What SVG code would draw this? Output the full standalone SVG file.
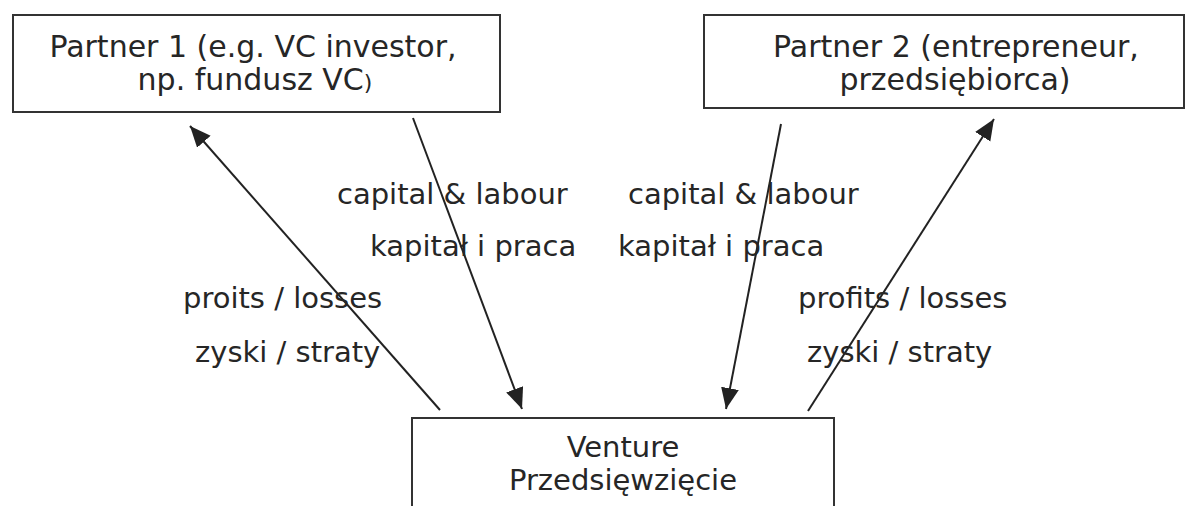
<svg xmlns="http://www.w3.org/2000/svg" width="1195" height="506" viewBox="0 0 1195 506">
<style>
  .box { fill: #ffffff; stroke: #333333; stroke-width: 2; }
  .t { font-family: "DejaVu Sans", Verdana, sans-serif; font-size: 30px; fill: #262626; text-anchor: middle; }
  .tv { font-family: "DejaVu Sans", Verdana, sans-serif; font-size: 29px; fill: #262626; text-anchor: middle; }
  .lbl { font-family: "DejaVu Sans", Verdana, sans-serif; font-size: 29px; fill: #262626; }
  .conn { stroke: #222222; stroke-width: 2; fill: none; marker-end: url(#arrow); }
</style>
<defs>
  <marker id="arrow" markerUnits="userSpaceOnUse" markerWidth="23" markerHeight="20" refX="21" refY="9" orient="auto">
    <path d="M0,0 L21,9 L0,18 Z" fill="#222222"/>
  </marker>
</defs>
<rect width="1195" height="506" fill="#ffffff"/>
<g id="partner1">
  <rect class="box" x="13" y="15" width="487" height="97"/>
  <text class="t" x="253" y="57">Partner 1 (e.g. VC investor,</text>
  <text class="t" x="255" y="90">np. fundusz VC<tspan font-size="22">)</tspan></text>
</g>
<g id="partner2">
  <rect class="box" x="704" y="15" width="480" height="93"/>
  <text class="t" x="956" y="57">Partner 2 (entrepreneur,</text>
  <text class="t" x="955" y="90">przedsiębiorca)</text>
</g>
<g id="venture">
  <rect class="box" x="412" y="418" width="422" height="100"/>
  <text class="tv" x="623" y="457">Venture</text>
  <text class="tv" x="623" y="490">Przedsięwzięcie</text>
</g>
<g id="connectors">
  <line class="conn" x1="440" y1="410" x2="190" y2="126"/>
  <line class="conn" x1="413" y1="118" x2="522" y2="409"/>
  <line class="conn" x1="781" y1="124" x2="726" y2="409"/>
  <line class="conn" x1="808" y1="411" x2="994" y2="119"/>
</g>
<g id="labels">
  <text class="lbl" x="337" y="204">capital &amp; labour</text>
  <text class="lbl" x="370" y="256">kapitał i praca</text>
  <text class="lbl" x="183" y="308">proits / losses</text>
  <text class="lbl" x="195" y="362">zyski / straty</text>
  <text class="lbl" x="628" y="204">capital &amp; labour</text>
  <text class="lbl" x="618" y="256">kapitał i praca</text>
  <text class="lbl" x="798" y="308">profits / losses</text>
  <text class="lbl" x="807" y="362">zyski / straty</text>
</g>
</svg>
